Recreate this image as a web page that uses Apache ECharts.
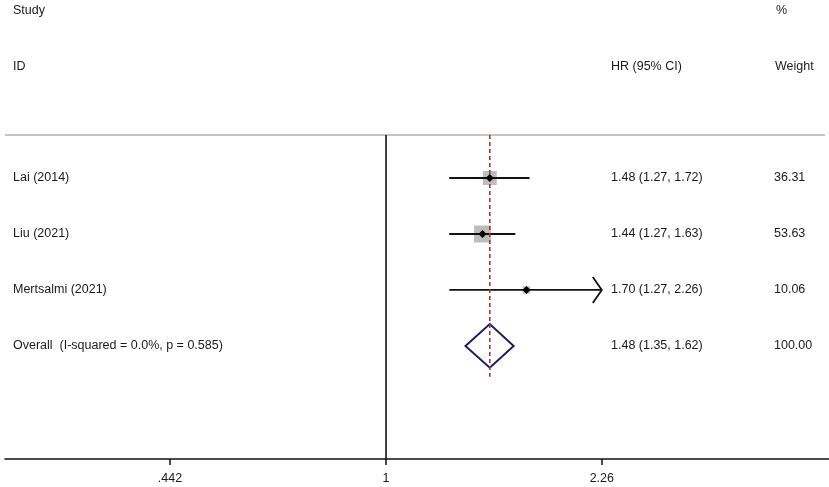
<!DOCTYPE html>
<html>
<head>
<meta charset="utf-8">
<script src="https://cdn.jsdelivr.net/npm/echarts@6/dist/echarts.min.js"></script>
<style>
  html, body { margin: 0; padding: 0; background: #fff; }
  #main { width: 829px; height: 487px; }
</style>
</head>
<body>
<div id="main"></div>
<script>
// study data
var studies = ['Lai (2014)', 'Liu (2021)', 'Mertsalmi (2021)'];
var hr = [1.48, 1.44, 1.70];
var lower = [1.27, 1.27, 1.27];
var upper = [1.72, 1.63, 2.26];
var weights = [36.31, 53.63, 10.06];

// pooled estimate
var overallLabel = 'Overall  (I-squared = 0.0%, p = 0.585)';
var overallHr = 1.48;
var overallLower = 1.35;
var overallUpper = 1.62;
var overallWeight = 100.00;

// axis ticks
var tickValues = [0.442, 1, 2.26];
var tickLabels = ['.442', '1', '2.26'];

var FONT = '"Liberation Sans", Arial, sans-serif';
var TXT = '#1a1a1a';
var colStudy = 13, colHr = 611, colWeight = 774;
var headerRow = 0.23;

var chart = echarts.init(document.getElementById('main'));
var ln = Math.log;
var xMax = ln(tickValues[tickValues.length - 1]);

function txt(x, y, s) {
  return { type: 'text', style: { x: x, y: y, text: s, fill: TXT, font: '12.5px ' + FONT, verticalAlign: 'middle' } };
}

var rows = studies.map(function(s, i){
  return [i, hr[i], lower[i], upper[i], weights[i]];
});

chart.setOption({
  animation: false,
  grid: { left: 5, right: 0, top: 0, bottom: 28 },
  xAxis: {
    type: 'value',
    position: 'bottom',
    min: -1.44,
    max: 1.674,
    axisLine: { show: true, onZero: false, lineStyle: { color: '#111', width: 1.6 } },
    splitLine: { show: false },
    axisTick: {
      show: true, length: 6, lineStyle: { color: '#111', width: 1.5 },
      customValues: tickValues.map(ln)
    },
    axisLabel: {
      show: true, margin: 13, color: TXT, fontSize: 12.5, fontFamily: FONT,
      customValues: tickValues.map(ln),
      formatter: function(v){
        var best = 0;
        tickValues.forEach(function(t, i){ if (Math.abs(ln(t) - v) < Math.abs(ln(tickValues[best]) - v)) best = i; });
        return tickLabels[best];
      }
    }
  },
  yAxis: { type: 'value', inverse: true, min: -2.18, max: 6.02, show: false },
  series: [
    {
      // headers, header rule, null line
      type: 'custom',
      data: [[0]],
      silent: true,
      z: 1,
      renderItem: function(params, api){
        var top = api.coord([0, headerRow]);
        var bottom = api.coord([0, 6.02]);
        var yS = api.coord([0, -2])[1], yI = api.coord([0, -1])[1];
        return { type: 'group', children: [
          txt(colStudy, yS, 'Study'),
          txt(colStudy, yI, 'ID'),
          txt(colHr, yI, 'HR (95% CI)'),
          txt(776, yS, '%'),
          txt(775, yI, 'Weight'),
          { type: 'line', shape: { x1: 5, y1: top[1], x2: 825, y2: top[1] }, style: { stroke: '#c4c4c4', lineWidth: 2 } },
          { type: 'line', shape: { x1: top[0], y1: top[1], x2: top[0], y2: bottom[1] }, style: { stroke: '#111', lineWidth: 1.6 } }
        ] };
      }
    },
    {
      // individual studies: squares and CI lines
      type: 'custom',
      data: rows,
      silent: true,
      z: 2,
      renderItem: function(params, api){
        var i = api.value(0), row = i + 1;
        var est = api.coord([ln(api.value(1)), row]);
        var lo = api.coord([ln(api.value(2)), row]);
        var hiVal = Math.min(ln(api.value(3)), xMax);
        var hi = api.coord([hiVal, row]);
        var side = 2.32 * Math.sqrt(api.value(4));
        var children = [
          { type: 'rect', shape: { x: est[0] - side / 2, y: est[1] - side / 2, width: side, height: side }, style: { fill: '#bdbdbd' } },
          { type: 'line', shape: { x1: lo[0], y1: lo[1], x2: hi[0], y2: hi[1] }, style: { stroke: '#111', lineWidth: 1.8 } },
          txt(colHr, est[1], api.value(1).toFixed(2) + ' (' + api.value(2).toFixed(2) + ', ' + api.value(3).toFixed(2) + ')'),
          txt(colWeight, est[1], api.value(4).toFixed(2)),
          txt(colStudy, est[1], studies[i])
        ];
        if (ln(api.value(3)) >= xMax - 0.001) {
          children.push({ type: 'polyline', shape: { points: [[hi[0] - 9, hi[1] - 13], [hi[0], hi[1]], [hi[0] - 9, hi[1] + 13]] }, style: { stroke: '#111', lineWidth: 1.8, fill: null } });
        }
        return { type: 'group', children: children };
      }
    },
    {
      // pooled diamond
      type: 'custom',
      data: [[overallHr, overallLower, overallUpper, overallWeight]],
      silent: true,
      z: 3,
      renderItem: function(params, api){
        var row = studies.length + 1;
        var est = api.coord([ln(api.value(0)), row]);
        var lo = api.coord([ln(api.value(1)), row]);
        var hi = api.coord([ln(api.value(2)), row]);
        var h = api.size([0, 0.39])[1];
        var top = api.coord([0, headerRow]);
        return { type: 'group', children: [
          { type: 'polygon', shape: { points: [[lo[0], lo[1]], [est[0], est[1] - h], [hi[0], hi[1]], [est[0], est[1] + h]] }, style: { fill: 'none', stroke: '#1a1a5e', lineWidth: 1.9 } },
          { type: 'line', shape: { x1: est[0], y1: top[1], x2: est[0], y2: est[1] + h + 9 }, style: { stroke: '#a3333f', lineWidth: 1.6, lineDash: [4, 3] } },
          txt(colStudy, est[1], overallLabel),
          txt(colHr, est[1], api.value(0).toFixed(2) + ' (' + api.value(1).toFixed(2) + ', ' + api.value(2).toFixed(2) + ')'),
          txt(colWeight, est[1], api.value(3).toFixed(2))
        ] };
      }
    },
    {
      // point estimates on top
      type: 'custom',
      data: rows,
      silent: true,
      z: 4,
      renderItem: function(params, api){
        var est = api.coord([ln(api.value(1)), api.value(0) + 1]);
        return { type: 'polygon', shape: { points: [[est[0] - 4, est[1]], [est[0], est[1] - 4], [est[0] + 4, est[1]], [est[0], est[1] + 4]] }, style: { fill: '#000' } };
      }
    }
  ]
});
</script>
</body>
</html>
